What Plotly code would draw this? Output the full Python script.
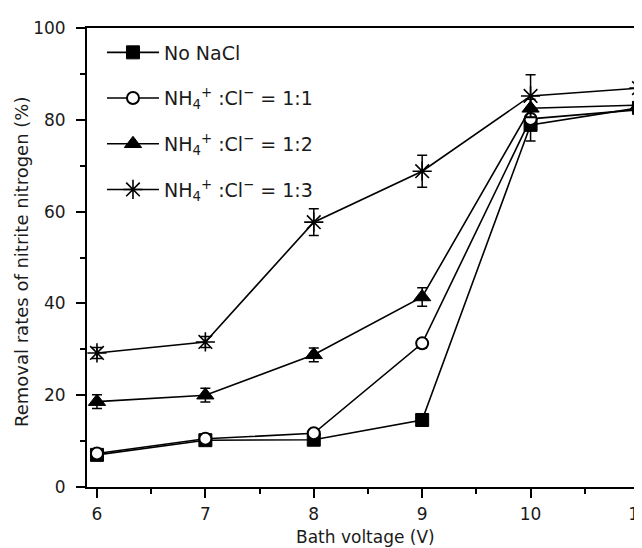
import plotly.graph_objects as go

voltage = [6, 7, 8, 9, 10, 11]

no_nacl = [7.0, 10.2, 10.3, 14.6, 78.9, 82.6]
no_nacl_err = [0.8, 0.8, 0.8, 1.0, 3.5, 4.0]

r11 = [7.3, 10.5, 11.7, 31.3, 80.2, 82.2]
r11_err = [0.8, 0.8, 0.8, 1.0, 2.5, 1.5]

r12 = [18.6, 20.0, 28.8, 41.4, 82.5, 83.2]
r12_err = [1.5, 1.5, 1.5, 2.0, 2.0, 1.5]

r13 = [29.2, 31.6, 57.7, 68.8, 85.2, 86.9]
r13_err = [1.2, 1.2, 2.9, 3.5, 4.6, 4.2]

names = [
    "No NaCl",
    "NH<sub>4</sub><sup>+</sup> :Cl<sup>\u2212</sup> = 1:1",
    "NH<sub>4</sub><sup>+</sup> :Cl<sup>\u2212</sup> = 1:2",
    "NH<sub>4</sub><sup>+</sup> :Cl<sup>\u2212</sup> = 1:3",
]

FONT = "DejaVu Sans"
TXT = "#1a1a1a"

# page body has an 8px margin; plot area spans page x 87..642, y 28..487
L, T, PW, PH, B = 79, 20, 555, 459, 61

series = [
    (no_nacl, no_nacl_err, dict(symbol="square", size=13, color="black", line=dict(color="black", width=1))),
    (r11, r11_err, dict(symbol="circle", size=12, color="white", line=dict(color="black", width=2))),
    (r12, r12_err, dict(symbol="triangle-up", size=15, color="black", line=dict(color="black", width=1))),
    (r13, r13_err, dict(symbol="asterisk-open", size=16, color="black", line=dict(color="black", width=1.6))),
]

fig = go.Figure()
for i, (vals, errs, mk) in enumerate(series):
    fig.add_trace(go.Scatter(
        x=voltage, y=vals, name=names[i], mode="lines+markers",
        line=dict(color="black", width=1.6),
        marker=mk,
        error_y=dict(type="data", array=errs, visible=True, color="black", thickness=1.5, width=5),
        legendgroup=f"g{i}",
        cliponaxis=False,
    ))

fig.update_layout(
    width=L + PW, height=T + PH + B,
    margin=dict(l=L, r=0, t=T, b=B, pad=0),
    paper_bgcolor="white", plot_bgcolor="white",
    font=dict(family=FONT, size=17, color=TXT),
    showlegend=True,
    legend=dict(
        x=0.027, y=0.988, xanchor="left", yanchor="top",
        bgcolor="rgba(0,0,0,0)", borderwidth=0,
        font=dict(family=FONT, size=19, color=TXT),
        tracegroupgap=18, traceorder="grouped", itemwidth=52,
    ),
    xaxis=dict(
        range=[5.908, 11.028], tickvals=[6, 7, 8, 9, 10, 11],
        ticks="outside", ticklen=9, tickwidth=1.5, tickcolor="black",
        minor=dict(dtick=0.5, tick0=6, ticks="outside", ticklen=5, tickwidth=1.5, tickcolor="black"),
        showline=True, linecolor="black", linewidth=2, mirror=True,
        showgrid=False, zeroline=False, automargin=False,
        ticklabeloverflow="allow", ticklabelstandoff=2,
        tickfont=dict(family=FONT, size=17, color=TXT),
    ),
    yaxis=dict(
        range=[0, 100], tickvals=[0, 20, 40, 60, 80, 100],
        ticks="outside", ticklen=9, tickwidth=1.5, tickcolor="black",
        minor=dict(dtick=10, ticks="outside", ticklen=5, tickwidth=1.5, tickcolor="black"),
        showline=True, linecolor="black", linewidth=2,
        showgrid=False, zeroline=False, automargin=False,
        ticklabeloverflow="allow", ticklabelstandoff=7,
        tickfont=dict(family=FONT, size=17, color=TXT),
    ),
    annotations=[
        dict(text="Bath voltage (V)", xref="paper", yref="paper",
             x=(365 - 87) / PW, y=-50 / PH, xanchor="center", yanchor="middle",
             showarrow=False, font=dict(family=FONT, size=17, color=TXT)),
        dict(text="Removal rates of nitrite nitrogen (%)", xref="paper", yref="paper",
             x=-65 / PW, y=(487 - 262) / PH, xanchor="center", yanchor="middle",
             textangle=-90, showarrow=False, font=dict(family=FONT, size=18, color=TXT)),
    ],
)

fig.write_html("out.html")
